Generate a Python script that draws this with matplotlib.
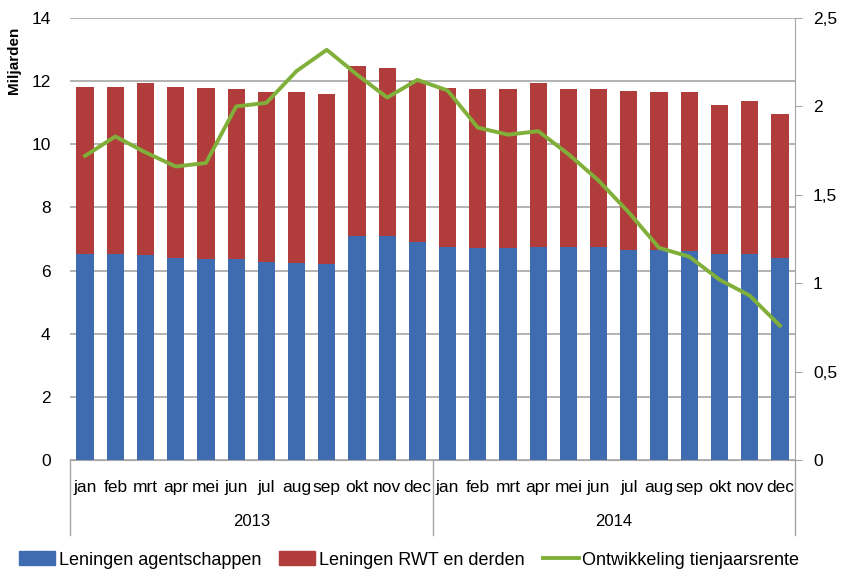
import numpy as np
import matplotlib
matplotlib.use("Agg")
import matplotlib.pyplot as plt
import matplotlib.transforms as mtransforms
from matplotlib.lines import Line2D
from matplotlib.patches import Patch

plt.rcParams['font.family'] = ['Liberation Sans', 'DejaVu Sans']

months = ["jan", "feb", "mrt", "apr", "mei", "jun", "jul", "aug", "sep", "okt", "nov", "dec"]
years = ["2013", "2014"]

# Miljarden
agentschappen = [6.52, 6.52, 6.49, 6.41, 6.38, 6.38, 6.26, 6.23, 6.20, 7.10, 7.10, 6.91,
                 6.74, 6.70, 6.70, 6.74, 6.74, 6.74, 6.65, 6.65, 6.62, 6.52, 6.52, 6.41]
totaal = [11.81, 11.81, 11.93, 11.81, 11.79, 11.76, 11.65, 11.65, 11.60, 12.49, 12.41, 12.00,
          11.79, 11.76, 11.74, 11.93, 11.74, 11.74, 11.69, 11.65, 11.65, 11.23, 11.38, 10.97]
rwt = [t - a for t, a in zip(totaal, agentschappen)]
# tienjaarsrente (%)
rente = [1.72, 1.83, 1.74, 1.66, 1.68, 2.00, 2.02, 2.20, 2.32, 2.18, 2.05, 2.15,
         2.09, 1.88, 1.84, 1.86, 1.73, 1.58, 1.40, 1.20, 1.15, 1.02, 0.93, 0.76]

blue = "#3F6CB0"
red = "#B03D3B"
green = "#80B03A"
grid = "#A6A6A6"

fig = plt.figure(figsize=(8.44, 5.69), dpi=100)
ax = fig.add_axes([70/844, 1-460/569, 725/844, 442/569])
x = np.arange(len(agentschappen))

ax.set_axisbelow(True)
ax.bar(x, agentschappen, width=0.57, color=blue)
ax.bar(x, rwt, bottom=agentschappen, width=0.57, color=red)
ax.set_xlim(-0.5, len(x) - 0.5)
ax.set_ylim(0, 14)
ax.set_yticks(range(0, 15, 2))
ax.yaxis.grid(True, color=grid, linewidth=1.2)
ax.tick_params(axis='y', length=0, labelsize=12.5, pad=14)
ax.set_xticks([])
for s in ['top', 'left', 'right']:
    ax.spines[s].set_visible(False)
ax.spines['bottom'].set_color(grid)

ax2 = ax.twinx()
ax2.plot(x, rente, color=green, linewidth=2.8)
ax2.set_ylim(0, 2.5)
ax2.set_yticks([0, 0.5, 1, 1.5, 2, 2.5])
ax2.set_yticklabels(["0", "0,5", "1", "1,5", "2", "2,5"])
ax2.tick_params(axis='y', direction='out', length=5, color=grid, labelsize=12.5, pad=8)
for s in ['top', 'left', 'bottom']:
    ax2.spines[s].set_visible(False)
ax2.spines['right'].set_color(grid)

# two-level category axis
trans = mtransforms.blended_transform_factory(ax.transData, ax.transAxes)
for i in x:
    ax.text(i, -0.062, months[i % 12], transform=trans, ha='center', va='center', fontsize=12.5)
for j, yr in enumerate(years):
    ax.text(j * 12 + 5.5, -0.139, yr, transform=trans, ha='center', va='center', fontsize=12)
for xs in [-0.5, 11.5, 23.5]:
    ax.plot([xs, xs], [0, -0.17], transform=trans, color=grid, linewidth=1, clip_on=False)

fig.text(14/844, 1-60/569, "Miljarden", rotation=90, ha='center', va='center',
         fontsize=11, fontweight='bold')

handles = [Patch(color=blue), Patch(color=red), Line2D([0], [0], color=green, linewidth=2.8)]
labels = ["Leningen agentschappen", "Leningen RWT en derden", "Ontwikkeling tienjaarsrente"]
fig.legend(handles, labels, loc='center', bbox_to_anchor=(0.485, 1-560/569), ncol=3,
           frameon=False, fontsize=13, handlelength=2.0, handleheight=0.8,
           handletextpad=0.2, columnspacing=1.0)

fig.savefig("out.png", dpi=100)
